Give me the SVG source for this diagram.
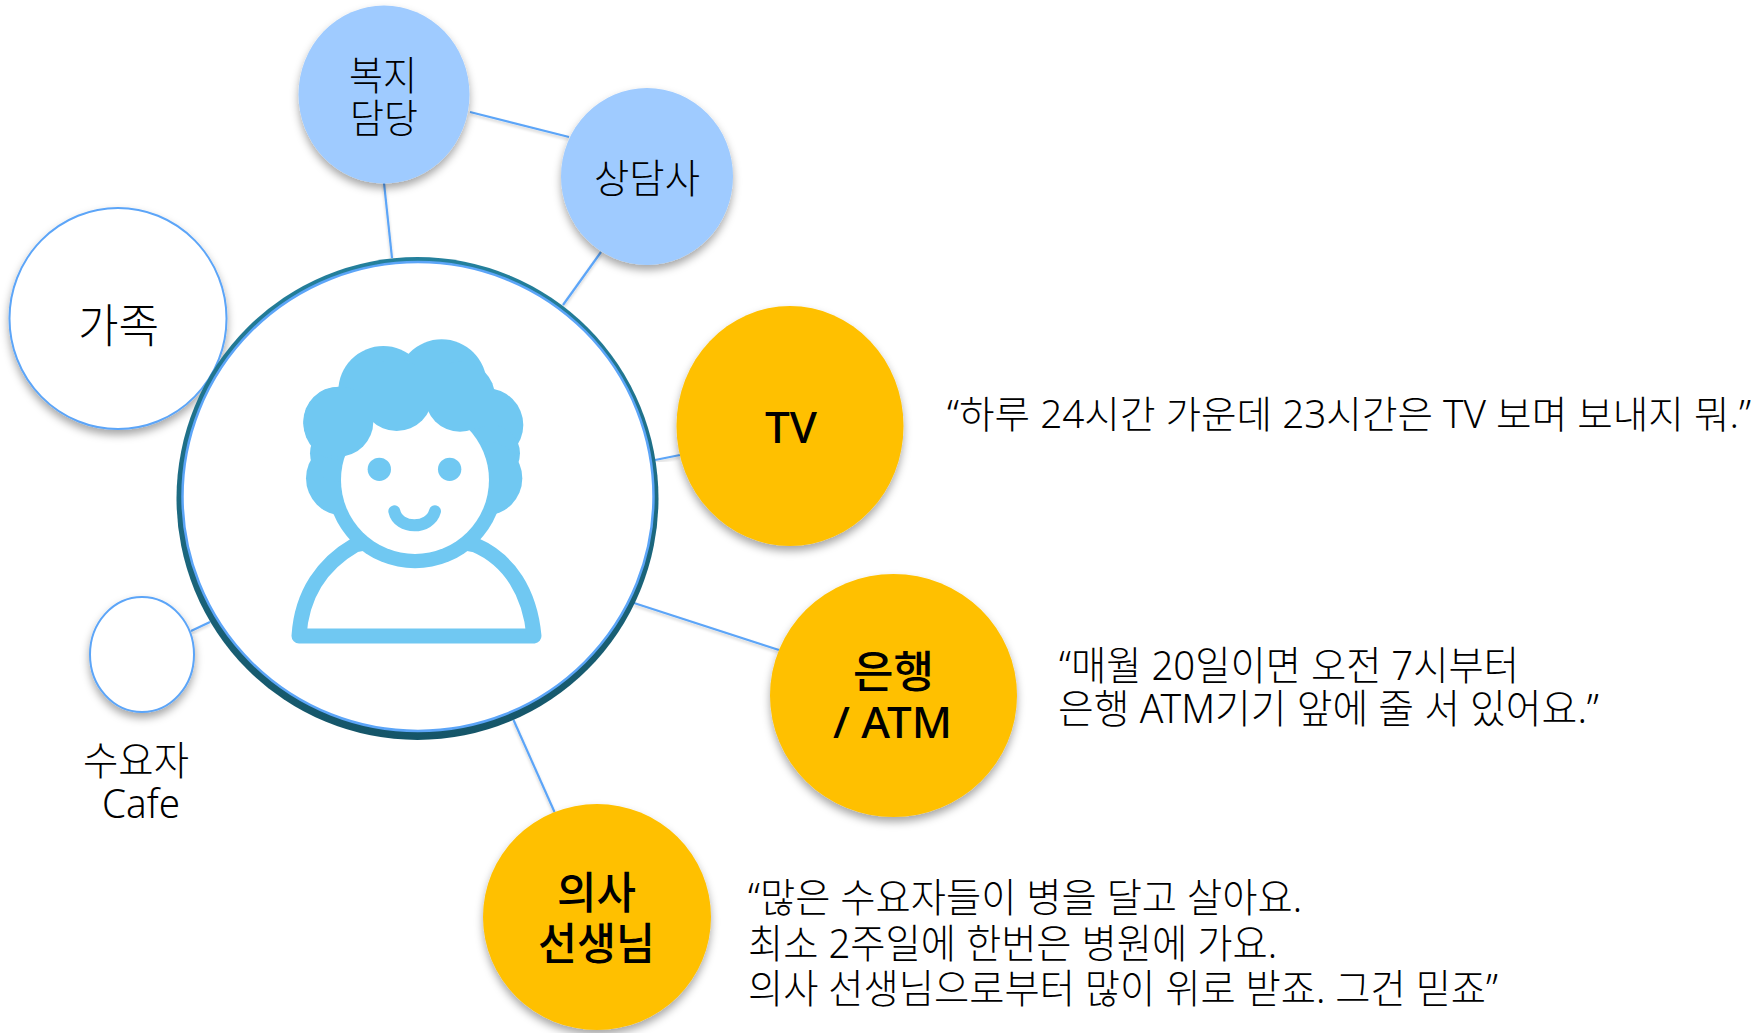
<svg xmlns="http://www.w3.org/2000/svg" width="1760" height="1033" viewBox="0 0 1760 1033">
<style>
text{font-family:"Noto Sans","Noto Sans CJK KR",sans-serif;fill:#000;font-weight:300;font-size:40px}
.b{font-weight:500;font-size:44px}
.lb{fill:#9FCBFF;filter:url(#sh)}
.or{fill:#FFC000;filter:url(#sh)}
.ow{fill:#fff;stroke:#5CA5F8;stroke-width:2;filter:url(#sh)}
.c{stroke:#5CA5F8;stroke-width:2.2;fill:none;filter:url(#sh2)}
.ic{fill:#70C8F2}
</style>
<defs>
<filter id="sh" x="-15%" y="-15%" width="130%" height="130%"><feDropShadow dx="0" dy="5" stdDeviation="4" flood-color="#000" flood-opacity=".35"/></filter>
<filter id="sh2" x="-30%" y="-30%" width="160%" height="160%"><feDropShadow dx="0" dy="2" stdDeviation="1.5" flood-color="#000" flood-opacity=".2"/></filter>
<filter id="bl"><feGaussianBlur stdDeviation="1.5"/></filter>
<linearGradient id="ring" x1="0" y1="0" x2="0" y2="1"><stop offset="0" stop-color="#24809C"/><stop offset="1" stop-color="#155568"/></linearGradient>
</defs>
<rect width="1760" height="1033" fill="#fff"/>
<g id="connectors">
<line class="c" x1="470" y1="112" x2="569" y2="137"/>
<line class="c" x1="384" y1="183" x2="392" y2="258"/>
<line class="c" x1="601" y1="252" x2="563" y2="305"/>
<line class="c" x1="655" y1="460" x2="680" y2="455"/>
<line class="c" x1="634" y1="603" x2="779" y2="650"/>
<line class="c" x1="513.5" y1="720" x2="554.5" y2="812"/>
<line class="c" x1="191" y1="631" x2="210" y2="622"/>
</g>
<g id="node-welfare">
<ellipse class="lb" cx="384" cy="94.5" rx="85.5" ry="89"/>
<text x="349" y="90" textLength="68" lengthAdjust="spacingAndGlyphs">복지</text>
<text x="350" y="133" textLength="68" lengthAdjust="spacingAndGlyphs">담당</text>
</g>
<g id="node-counselor">
<ellipse class="lb" cx="647" cy="176.5" rx="86" ry="88.5"/>
<text x="594" y="193" textLength="106" lengthAdjust="spacingAndGlyphs">상담사</text>
</g>
<g id="node-family">
<ellipse class="ow" cx="118" cy="318.5" rx="108.5" ry="110.5"/>
<text x="78" y="342" style="font-size:46px" textLength="81" lengthAdjust="spacingAndGlyphs">가족</text>
</g>
<g id="node-cafe">
<ellipse class="ow" cx="142" cy="654.5" rx="52" ry="57.5"/>
<text x="83" y="775" textLength="106" lengthAdjust="spacingAndGlyphs">수요자</text>
<text x="102" y="818" textLength="78" lengthAdjust="spacingAndGlyphs">Cafe</text>
</g>
<g id="node-center">
<ellipse cx="417.5" cy="498.5" rx="241" ry="241.5" fill="url(#ring)"/>
<ellipse cx="418" cy="496.5" rx="235.5" ry="234.5" fill="#fff" stroke="#5CA5F8" stroke-width="2.5"/>
<g transform="translate(280 320) scale(.3333)" filter="url(#bl)">
<path d="M57 948C65 820 130 730 225 675L405 640L585 675C690 720 750 820 762 948Z" fill="#fff" stroke="#70C8F2" stroke-width="45" stroke-linejoin="round"/>
<circle class="ic" cx="405" cy="480" r="265"/>
<circle class="ic" cx="310" cy="213" r="135"/>
<circle class="ic" cx="485" cy="193" r="135"/>
<circle class="ic" cx="620" cy="315" r="110"/>
<circle class="ic" cx="635" cy="400" r="85"/>
<circle class="ic" cx="615" cy="475" r="112"/>
<circle class="ic" cx="190" cy="475" r="112"/>
<circle class="ic" cx="175" cy="400" r="85"/>
<circle class="ic" cx="180" cy="310" r="110"/>
<circle cx="405" cy="480" r="222" fill="#fff"/>
<circle class="ic" cx="175" cy="305" r="105"/>
<circle class="ic" cx="350" cy="225" r="108"/>
<circle class="ic" cx="540" cy="230" r="105"/>
<circle class="ic" cx="298" cy="448" r="35"/>
<circle class="ic" cx="509" cy="448" r="35"/>
<path d="M343 574C355 630 450 630 465 574" fill="none" stroke="#70C8F2" stroke-width="36" stroke-linecap="round"/>
</g>
</g>
<g id="node-tv">
<ellipse class="or" cx="790" cy="426" rx="113.5" ry="120"/>
<text class="b" x="765" y="443" textLength="52" lengthAdjust="spacingAndGlyphs">TV</text>
</g>
<g id="node-bank">
<ellipse class="or" cx="893.5" cy="695.5" rx="123.5" ry="121.5"/>
<text class="b" x="853" y="688" textLength="81" lengthAdjust="spacingAndGlyphs">은행</text>
<text class="b" x="833" y="738" textLength="119" lengthAdjust="spacingAndGlyphs">/ ATM</text>
</g>
<g id="node-doctor">
<ellipse class="or" cx="597" cy="917" rx="114" ry="113"/>
<text class="b" x="557" y="909" textLength="79" lengthAdjust="spacingAndGlyphs">의사</text>
<text class="b" x="538" y="960" textLength="117" lengthAdjust="spacingAndGlyphs">선생님</text>
</g>
<g id="quotes">
<text x="947" y="428" style="font-size:38px" textLength="804" lengthAdjust="spacingAndGlyphs">“하루 24시간 가운데 23시간은 TV 보며 보내지 뭐.”</text>
<text x="1059" y="680" textLength="460" lengthAdjust="spacingAndGlyphs">“매월 20일이면 오전 7시부터</text>
<text x="1058" y="723" textLength="541" lengthAdjust="spacingAndGlyphs">은행 ATM기기 앞에 줄 서 있어요.”</text>
<text x="748" y="912" textLength="554" lengthAdjust="spacingAndGlyphs">“많은 수요자들이 병을 달고 살아요.</text>
<text x="748" y="958" textLength="529" lengthAdjust="spacingAndGlyphs">최소 2주일에 한번은 병원에 가요.</text>
<text x="748" y="1003" textLength="750" lengthAdjust="spacingAndGlyphs">의사 선생님으로부터 많이 위로 받죠. 그건 믿죠”</text>
</g>
</svg>
